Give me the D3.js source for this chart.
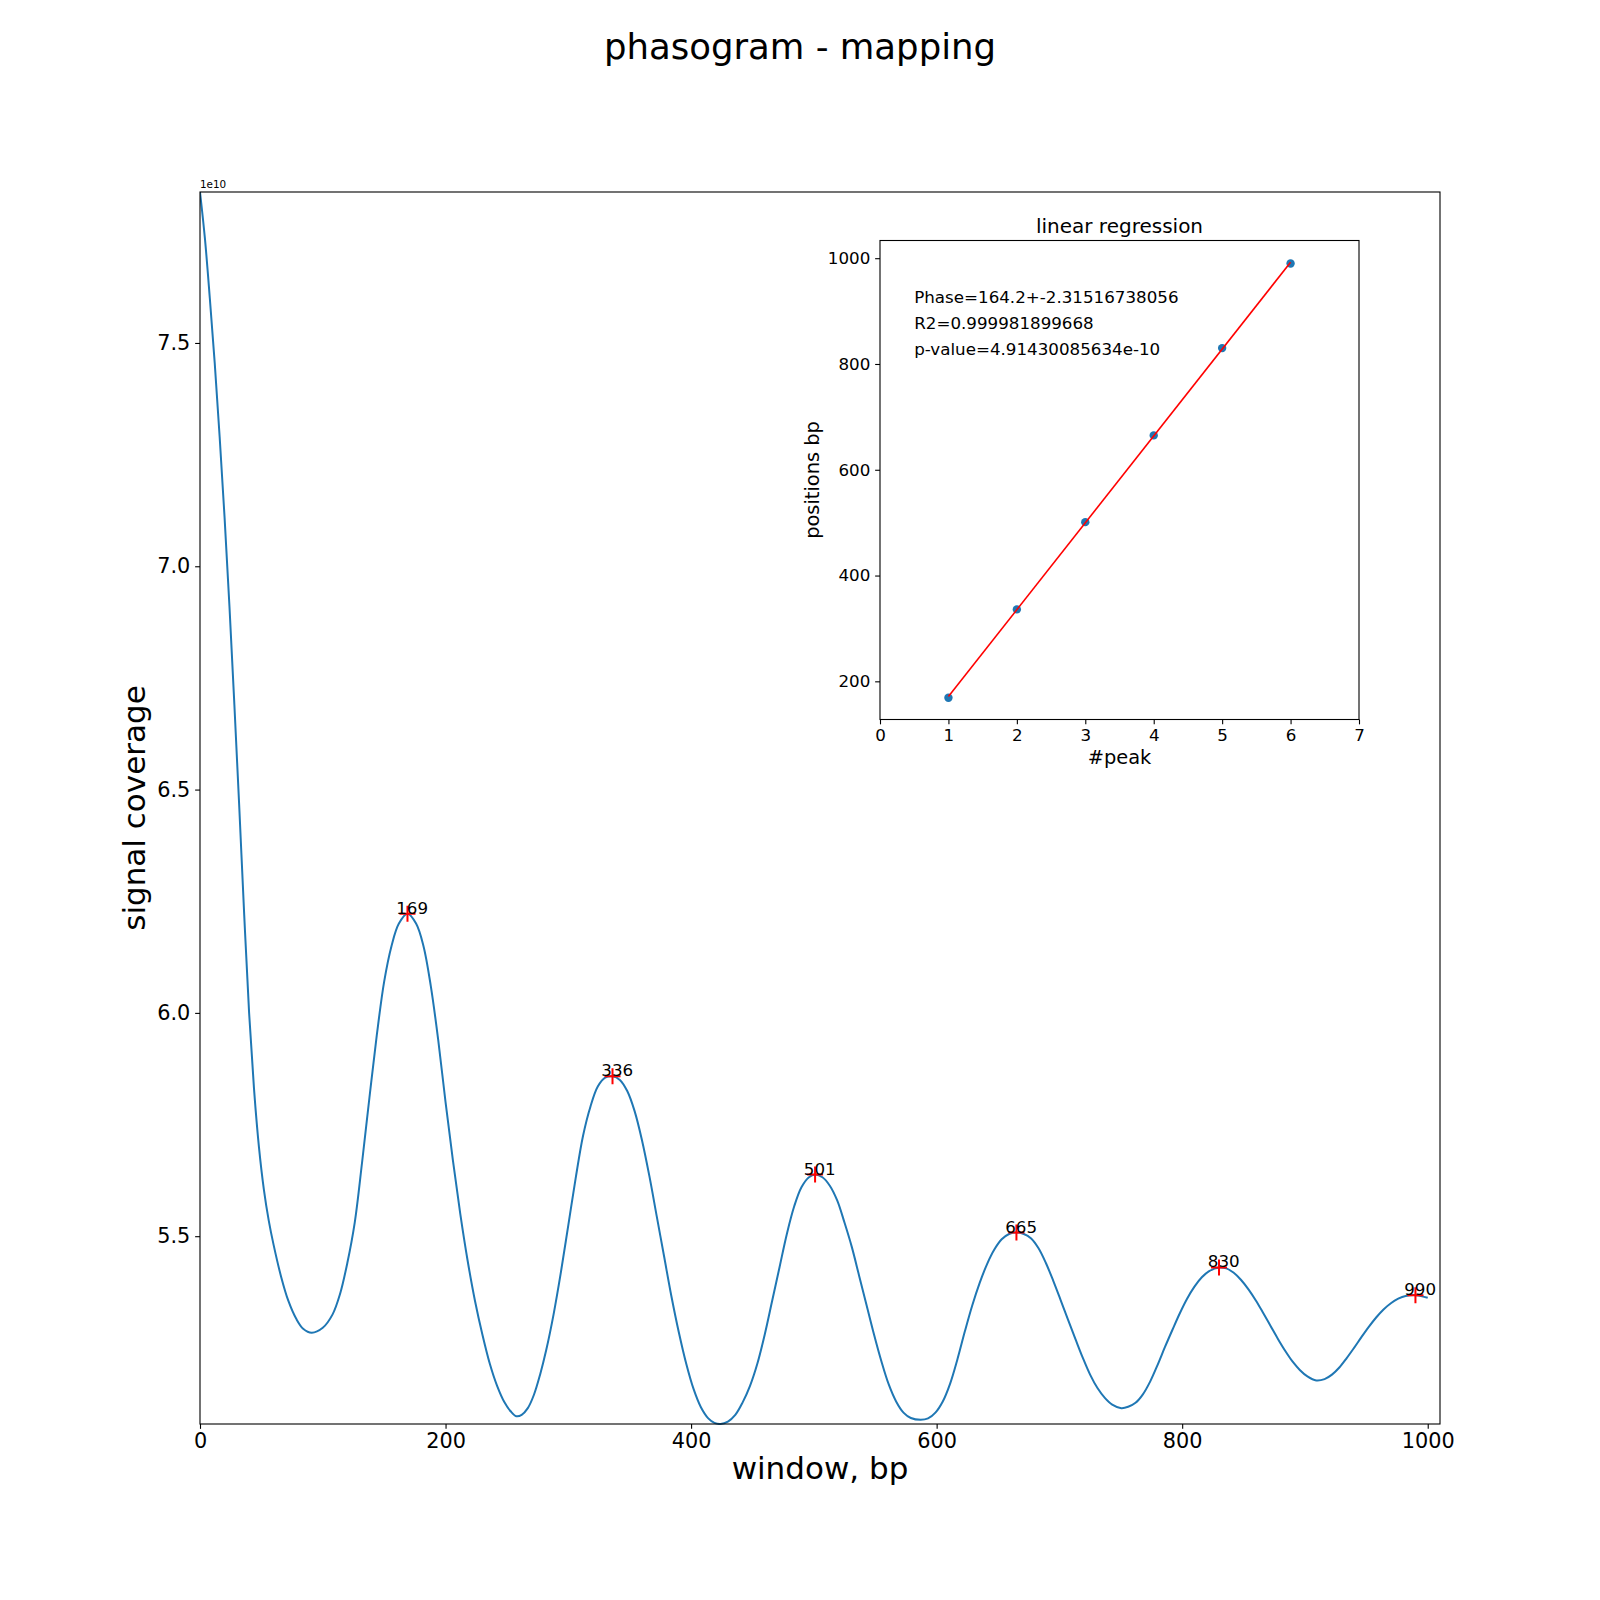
<!DOCTYPE html>
<html>
<head>
<meta charset="utf-8">
<script src="https://cdn.jsdelivr.net/npm/d3@7"></script>
<style>
  body { margin: 0; background: #fff; }
  svg { display: block; font-family: "DejaVu Sans", sans-serif; }
</style>
</head>
<body>
<div id="chart"></div>
<script>
// phasogram curve (coverage in units of 1e10)
const windowBp = [0, 4, 8, 12, 16, 20, 24, 28, 32, 36, 40, 44, 48, 52, 56, 60, 66, 72, 78.4, 84, 91,
  100, 108, 114, 120, 126, 132, 138, 144, 150, 156, 162, 169,
  176, 182, 188, 194, 200, 206, 212, 218, 224, 230, 236, 242, 248, 253, 257.6,
  262, 267, 272, 277, 282, 288, 294, 300, 306, 312, 318, 324, 330, 336,
  342, 348, 354, 360, 366, 372, 378, 384, 390, 396, 402, 408, 414, 419, 424,
  430, 436, 442, 448, 454, 460, 466, 472, 478, 484, 490, 496, 501,
  507, 513, 519, 525, 531, 537, 543, 549, 555, 561, 567, 573, 579, 587,
  593, 599, 605, 611, 617, 623, 629, 635, 641, 647, 653, 659, 665,
  671, 677, 683, 689, 695, 701, 707, 713, 719, 725, 731, 737, 743, 750.4,
  756, 762, 768, 774, 780, 786, 792, 798, 804, 810, 816, 822, 830.4,
  836, 842, 848, 854, 860, 866, 872, 878, 884, 890, 896, 902, 909.2,
  916, 922, 928, 934, 940, 946, 952, 958, 964, 970, 976, 982, 990.6, 1000];
const coverage = [7.838, 7.734, 7.6, 7.455, 7.29, 7.11, 6.91, 6.69, 6.46, 6.22, 6.0, 5.83, 5.7, 5.605, 5.535, 5.48, 5.41, 5.355, 5.315, 5.293, 5.284,
  5.295, 5.325, 5.37, 5.44, 5.53, 5.665, 5.81, 5.95, 6.07, 6.15, 6.2, 6.222,
  6.2, 6.15, 6.06, 5.94, 5.8, 5.67, 5.55, 5.445, 5.355, 5.28, 5.215, 5.165, 5.128, 5.108, 5.097,
  5.1, 5.115, 5.145, 5.19, 5.245, 5.325, 5.42, 5.525, 5.63, 5.725, 5.79, 5.835, 5.855, 5.858,
  5.85, 5.825, 5.78, 5.715, 5.635, 5.545, 5.455, 5.365, 5.285, 5.215, 5.158, 5.117, 5.092, 5.082, 5.0795,
  5.085, 5.1, 5.128, 5.165, 5.215, 5.28, 5.355, 5.43, 5.505, 5.567, 5.61, 5.632, 5.638,
  5.632, 5.613, 5.58, 5.53, 5.475, 5.41, 5.345, 5.28, 5.22, 5.168, 5.13, 5.105, 5.093, 5.089,
  5.092, 5.105, 5.13, 5.17, 5.225, 5.287, 5.345, 5.395, 5.437, 5.47, 5.493, 5.505, 5.508,
  5.505, 5.495, 5.473, 5.44, 5.4, 5.357, 5.313, 5.27, 5.228, 5.19, 5.16, 5.138, 5.123, 5.115,
  5.118, 5.127, 5.146, 5.175, 5.212, 5.252, 5.29, 5.327, 5.36, 5.387, 5.408, 5.422, 5.43,
  5.428, 5.418, 5.402, 5.381, 5.356, 5.328, 5.299, 5.27, 5.243, 5.219, 5.2, 5.186, 5.177,
  5.18, 5.19, 5.206, 5.227, 5.25, 5.274, 5.297, 5.318, 5.336, 5.35, 5.36, 5.366, 5.368, 5.362];

const peakPos = [169, 336, 501, 665, 830, 990];
const peakCoverage = [6.222, 5.858, 5.638, 5.508, 5.43, 5.368];
const peakIndex = [1, 2, 3, 4, 5, 6];
const fitPeak = [1, 6];
const fitPos = [171.3, 992.3];
const statLines = ['Phase=164.2+-2.31516738056', 'R2=0.999981899668', 'p-value=4.91430085634e-10'];

const mainXTicks = [0, 200, 400, 600, 800, 1000];
const mainYTicks = [5.5, 6.0, 6.5, 7.0, 7.5];
const insetXTicks = [0, 1, 2, 3, 4, 5, 6, 7];
const insetYTicks = [200, 400, 600, 800, 1000];

const BLUE = '#1f77b4';
const RED = '#ff0000';

const svg = d3.select('#chart').append('svg')
  .attr('width', 1600).attr('height', 1600);
svg.append('rect').attr('width', 1600).attr('height', 1600).attr('fill', '#fff');

// main axes box
const m = { left: 200, right: 1440, top: 192, bottom: 1424 };
const x = d3.scaleLinear().domain([0, 1010]).range([m.left, m.right]);
const y = d3.scaleLinear().domain([d3.min(coverage), d3.max(coverage)]).range([m.bottom, m.top]);

svg.append('text').attr('x', 800).attr('y', 59).attr('text-anchor', 'middle')
  .style('font-size', '35.5px').text('phasogram - mapping');

const pts = windowBp.map((d, i) => [d, coverage[i]]);
const line = d3.line().x(d => x(d[0])).y(d => y(d[1])).curve(d3.curveCatmullRom.alpha(0.5));

svg.append('defs').append('clipPath').attr('id', 'clipMain')
  .append('rect').attr('x', m.left).attr('y', m.top - 1)
  .attr('width', m.right - m.left).attr('height', m.bottom - m.top + 2);

svg.append('path').datum(pts).attr('d', line)
  .attr('fill', 'none').attr('stroke', BLUE).attr('stroke-width', 2)
  .attr('clip-path', 'url(#clipMain)');

// peak markers and labels
const peaks = svg.append('g');
peakPos.forEach((p, i) => {
  const px = x(p), py = y(peakCoverage[i]);
  peaks.append('path').attr('d', `M${px - 8},${py}H${px + 8}M${px},${py - 8}V${py + 8}`)
    .attr('stroke', RED).attr('stroke-width', 2);
  peaks.append('text').attr('x', px + 4.7).attr('y', py).attr('text-anchor', 'middle')
    .style('font-size', '16.7px').text(p);
});

const xAxis = svg.append('g').attr('transform', `translate(0,${m.bottom})`)
  .call(d3.axisBottom(x).tickValues(mainXTicks).tickSize(4.86).tickPadding(4.86).tickFormat(d3.format('d')));
const yAxis = svg.append('g').attr('transform', `translate(${m.left},0)`)
  .call(d3.axisLeft(y).tickValues(mainYTicks).tickSize(4.86).tickPadding(4.86).tickFormat(d3.format('.1f')));
[xAxis, yAxis].forEach(g => {
  g.select('.domain').remove();
  g.selectAll('line').attr('stroke', '#000').attr('stroke-width', 1.1);
  g.selectAll('text').attr('fill', '#000').style('font-family', '"DejaVu Sans", sans-serif').style('font-size', '20.8px');
});

svg.append('rect').attr('x', m.left).attr('y', m.top)
  .attr('width', m.right - m.left).attr('height', m.bottom - m.top)
  .attr('fill', 'none').attr('stroke', '#000').attr('stroke-width', 1.1);

svg.append('text').attr('x', m.left).attr('y', m.top - 4)
  .style('font-size', '10.4px').text('1e10');

svg.append('text').attr('x', (m.left + m.right) / 2).attr('y', 1479)
  .attr('text-anchor', 'middle').style('font-size', '31px').text('window, bp');
svg.append('text').attr('transform', `translate(145,${(m.top + m.bottom) / 2}) rotate(-90)`)
  .attr('text-anchor', 'middle').style('font-size', '31px').text('signal coverage');

// inset: linear regression of peak positions
const n = { left: 880, right: 1359, top: 240.5, bottom: 719.5 };
const ix = d3.scaleLinear().domain([0, 7]).range([n.left, n.right]);
const yLo = Math.min(d3.min(peakPos), d3.min(fitPos));
const yHi = Math.max(d3.max(peakPos), d3.max(fitPos));
const pad = (yHi - yLo) * 0.05;
const iy = d3.scaleLinear().domain([yLo - pad, yHi + pad]).range([n.bottom, n.top]);

const inset = svg.append('g');
inset.append('rect').attr('x', n.left).attr('y', n.top)
  .attr('width', n.right - n.left).attr('height', n.bottom - n.top).attr('fill', '#fff');

inset.selectAll('.pt').data(peakIndex).enter().append('circle')
  .attr('cx', d => ix(d)).attr('cy', (d, i) => iy(peakPos[i]))
  .attr('r', 4.2).attr('fill', BLUE);

inset.append('path')
  .datum(fitPeak.map((d, i) => [d, fitPos[i]]))
  .attr('d', d3.line().x(d => ix(d[0])).y(d => iy(d[1])))
  .attr('stroke', RED).attr('stroke-width', 1.6).attr('fill', 'none');

const ixAxis = inset.append('g').attr('transform', `translate(0,${n.bottom})`)
  .call(d3.axisBottom(ix).tickValues(insetXTicks).tickSize(4.86).tickPadding(4.86).tickFormat(d3.format('d')));
const iyAxis = inset.append('g').attr('transform', `translate(${n.left},0)`)
  .call(d3.axisLeft(iy).tickValues(insetYTicks).tickSize(4.86).tickPadding(4.86).tickFormat(d3.format('d')));
[ixAxis, iyAxis].forEach(g => {
  g.select('.domain').remove();
  g.selectAll('line').attr('stroke', '#000').attr('stroke-width', 1.1);
  g.selectAll('text').attr('fill', '#000').style('font-family', '"DejaVu Sans", sans-serif').style('font-size', '16.7px');
});

inset.append('rect').attr('x', n.left).attr('y', n.top)
  .attr('width', n.right - n.left).attr('height', n.bottom - n.top)
  .attr('fill', 'none').attr('stroke', '#000').attr('stroke-width', 1.1);

inset.append('text').attr('x', (n.left + n.right) / 2).attr('y', n.top - 8)
  .attr('text-anchor', 'middle').style('font-size', '20px').text('linear regression');
inset.append('text').attr('x', (n.left + n.right) / 2).attr('y', 764)
  .attr('text-anchor', 'middle').style('font-size', '19.4px').text('#peak');
inset.append('text').attr('transform', `translate(819,${(n.top + n.bottom) / 2}) rotate(-90)`)
  .attr('text-anchor', 'middle').style('font-size', '19.4px').text('positions bp');

inset.selectAll('.stat').data(statLines).enter().append('text')
  .attr('x', ix(0.5)).attr('y', (d, i) => iy(916) + i * 26.3)
  .style('font-size', '16.7px').text(d => d);
</script>
</body>
</html>
